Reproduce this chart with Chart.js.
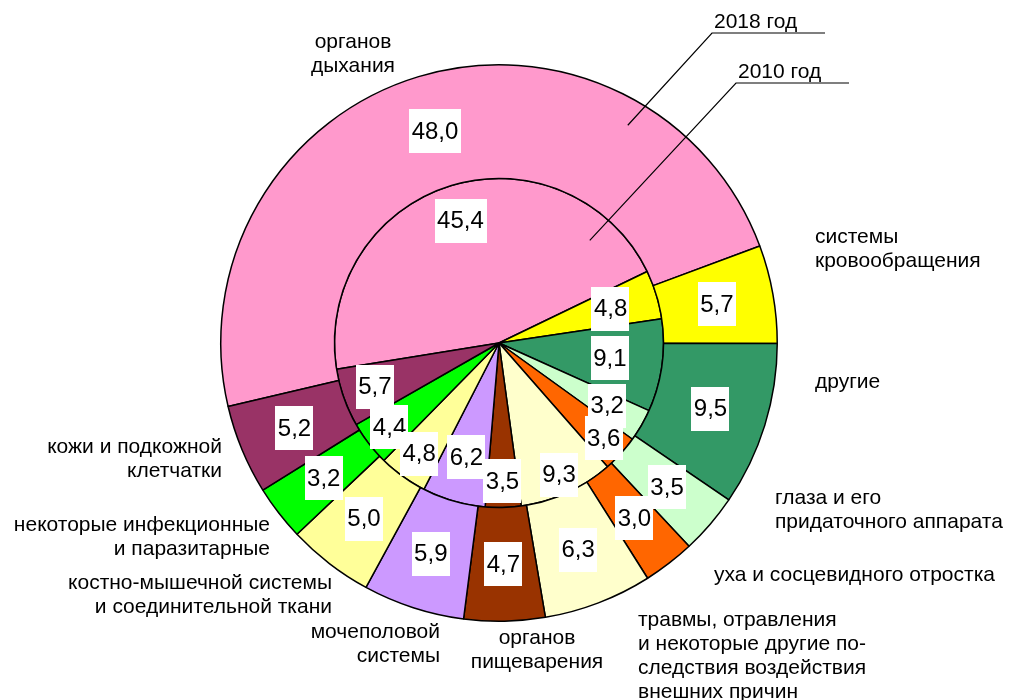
<!DOCTYPE html>
<html>
<head>
<meta charset="utf-8">
<script src="https://cdn.jsdelivr.net/npm/chart.js@4.4.0/dist/chart.umd.min.js"></script>
<style>
  html, body { margin: 0; padding: 0; background: #fff; }
  #wrap { width: 1011px; height: 700px; }
</style>
</head>
<body>
<div id="wrap"><canvas id="pie" width="1011" height="700"></canvas></div>
<script>
// categories (clockwise from "органов дыхания")
const categories = [
    ['органов', 'дыхания'],
    ['системы', 'кровообращения'],
    ['другие'],
    ['глаза и его', 'придаточного аппарата'],
    ['уха и сосцевидного отростка'],
    ['травмы, отравления', 'и некоторые другие по-', 'следствия воздействия', 'внешних причин'],
    ['органов', 'пищеварения'],
    ['мочеполовой', 'системы'],
    ['костно-мышечной системы', 'и соединительной ткани'],
    ['некоторые инфекционные', 'и паразитарные'],
    ['кожи и подкожной', 'клетчатки']
];
const values2018 = [48.0, 5.7, 9.5, 3.5, 3.0, 6.3, 4.7, 5.9, 5.0, 3.2, 5.2];
const values2010 = [45.4, 4.8, 9.1, 3.2, 3.6, 9.3, 3.5, 6.2, 4.8, 4.4, 5.7];
const seriesNames = ['2018 год', '2010 год'];

const colors = ['#FF99CC', '#FFFF00', '#339966', '#CCFFCC', '#FF6600', '#FFFFCC',
                '#993300', '#CC99FF', '#FFFF99', '#00FF00', '#993366'];

// where the category texts sit: [x, y of first line, align]
const catLayout = [
    [353, 42, 'center'], [815, 237, 'left'], [815, 382, 'left'], [775, 498, 'left'],
    [714, 575, 'left'], [638, 620, 'left'], [537, 638, 'center'], [440, 632, 'right'],
    [332, 583, 'right'], [270, 525, 'right'], [222, 447, 'right']
];
// inner pie labels: fraction of pie radius (Excel nudged some of them)
const innerLabelR = [0.78, 0.71, 0.68, 0.76, 0.86, 0.88, 0.84, 0.72, 0.83, 0.84, 0.80];

const fmt = v => v.toFixed(1).replace('.', ',');

const labelsPlugin = {
    id: 'labels',
    afterDatasetsDraw(chart) {
        const ctx = chart.ctx;
        ctx.save();

        // value boxes
        ctx.font = '24px "Liberation Sans", Arial, sans-serif';
        ctx.textAlign = 'center';
        ctx.textBaseline = 'middle';
        chart.data.datasets.forEach((ds, di) => {
            const meta = chart.getDatasetMeta(di);
            // inner labels drawn last-to-first so crowded boxes stay readable
            const order = meta.data.map((_, i) => i);
            if (di === 1) order.reverse();
            order.forEach(i => {
                const arc = meta.data[i];
                let x, y;
                if (di === 0) {
                    ({x, y} = arc.tooltipPosition());
                } else {
                    const a = (arc.startAngle + arc.endAngle) / 2;
                    const r = arc.outerRadius * innerLabelR[i];
                    x = arc.x + Math.cos(a) * r;
                    y = arc.y + Math.sin(a) * r;
                }
                const txt = fmt(ds.data[i]);
                const w = ctx.measureText(txt).width + 5;
                const h = 44;
                ctx.fillStyle = '#fff';
                ctx.fillRect(Math.round(x - w / 2), Math.round(y - h / 2), Math.round(w), h);
                ctx.fillStyle = '#000';
                ctx.fillText(txt, x, y + 1);
            });
        });

        // category names
        ctx.font = '21px "Liberation Sans", Arial, sans-serif';
        ctx.fillStyle = '#000';
        categories.forEach((lines, i) => {
            const [x, y, align] = catLayout[i];
            ctx.textAlign = align;
            lines.forEach((ln, k) => ctx.fillText(ln, x, y + k * 24));
        });

        // series captions with leader lines into the pink slices
        const pin = [
            { ds: 0, ang: 30.6, r: 253, lx: 712, ly: 33, len: 113 },
            { ds: 1, ang: 41.5, r: 137, lx: 736, ly: 83, len: 113 }
        ];
        ctx.strokeStyle = '#000';
        ctx.lineWidth = 1.2;
        ctx.textAlign = 'left';
        ctx.textBaseline = 'alphabetic';
        pin.forEach(p => {
            const arc = chart.getDatasetMeta(p.ds).data[0];
            const a = (p.ang - 90) * Math.PI / 180;
            const ex = arc.x + Math.cos(a) * p.r;
            const ey = arc.y + Math.sin(a) * p.r;
            ctx.beginPath();
            ctx.moveTo(ex, ey);
            ctx.lineTo(p.lx, p.ly);
            ctx.lineTo(p.lx + p.len, p.ly);
            ctx.stroke();
            ctx.fillText(seriesNames[p.ds], p.lx + 2, p.ly - 5);
        });

        ctx.restore();
    }
};

new Chart(document.getElementById('pie'), {
    type: 'pie',
    data: {
        labels: categories.map(c => c.join(' ')),
        datasets: [
            {
                label: seriesNames[0],
                data: values2018,
                backgroundColor: colors,
                borderColor: '#000',
                borderWidth: 1.5,
                rotation: -103.2,
                weight: 114
            },
            {
                label: seriesNames[1],
                data: values2010,
                backgroundColor: colors,
                borderColor: '#000',
                borderWidth: 1.5,
                rotation: -99.2,
                weight: 165
            }
        ]
    },
    options: {
        responsive: false,
        animation: false,
        layout: { padding: { left: 220, right: 233, top: 64, bottom: 78 } },
        plugins: {
            legend: { display: false },
            tooltip: { enabled: false }
        }
    },
    plugins: [labelsPlugin]
});
</script>
</body>
</html>
